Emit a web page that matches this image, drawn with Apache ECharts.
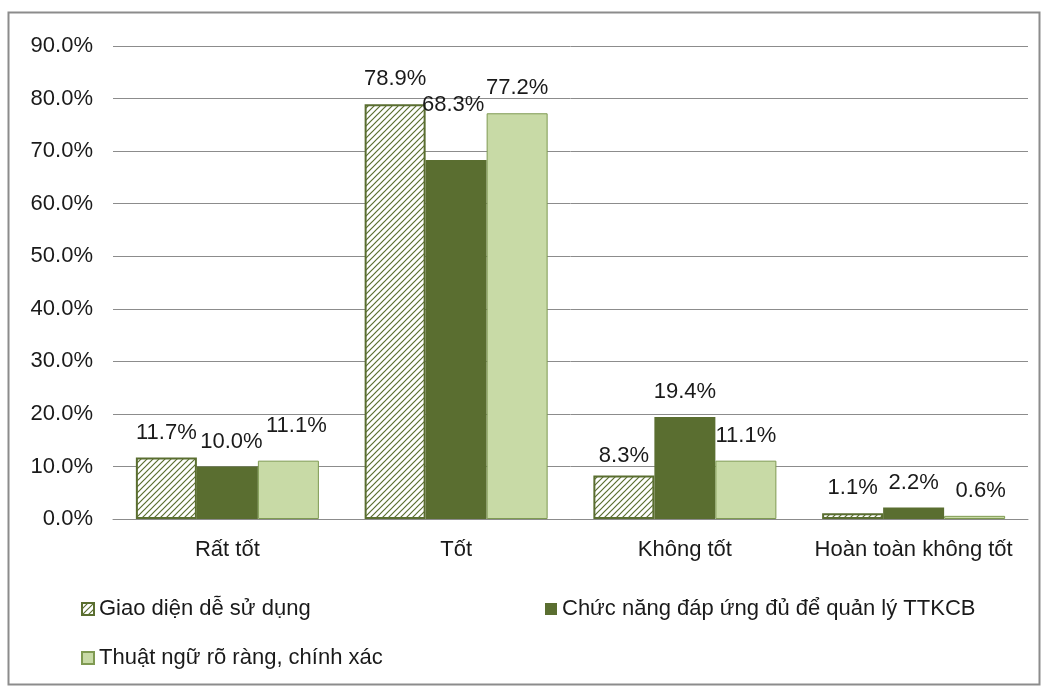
<!DOCTYPE html>
<html>
<head>
    <meta charset="utf-8">
    <title>Đánh giá phần mềm</title>
    <script type="text/javascript" src="https://cdn.jsdelivr.net/npm/echarts@6/dist/echarts.min.js"></script>
    <style>
        html, body { margin: 0; padding: 0; background: #fff; }
    </style>
</head>
<body>
<div id="main" style="width: 1044px;height:689px;"></div>
<script type="text/javascript">
    // du lieu
    var categories = ['Rất tốt', 'Tốt', 'Không tốt', 'Hoàn toàn không tốt'];
    var seriesNames = ['Giao diện dễ sử dụng', 'Chức năng đáp ứng đủ để quản lý TTKCB', 'Thuật ngữ rõ ràng, chính xác'];
    var giaoDien = [11.7, 78.9, 8.3, 1.1];
    var chucNang = [10.0, 68.3, 19.4, 2.2];
    var thuatNgu = [11.1, 77.2, 11.1, 0.6];

    var darkGreen = '#5a6e30';
    var lightGreen = '#c8daa6';
    var font = 'Liberation Sans, Arial';
    var fs = 22;

    // nen gach cheo cho cot thu nhat
    var hatch = document.createElement('canvas');
    hatch.width = 6;
    hatch.height = 6;
    var ctx = hatch.getContext('2d');
    ctx.fillStyle = '#ffffff';
    ctx.fillRect(0, 0, 6, 6);
    ctx.strokeStyle = darkGreen;
    ctx.lineWidth = 1.2;
    ctx.beginPath();
    ctx.moveTo(0, 6); ctx.lineTo(6, 0);
    ctx.moveTo(-3, 3); ctx.lineTo(3, -3);
    ctx.moveTo(3, 9); ctx.lineTo(9, 3);
    ctx.stroke();

    var myChart = echarts.init(document.getElementById('main'));

    var labelStyle = {
        show: true,
        position: 'top',
        distance: 14,
        fontSize: fs,
        color: '#1a1a1a',
        fontFamily: font,
        formatter: function (p) { return p.value.toFixed(1) + '%'; }
    };

    // vai nhan duoc dich tay nhu ban goc
    function withOffsets(arr, offsets) {
        return arr.map(function (v, i) {
            return offsets[i] ? { value: v, label: { offset: offsets[i] } } : v;
        });
    }

    var legendText = { fontSize: fs, color: '#1a1a1a', fontFamily: font };
    var legendBase = { icon: 'rect', itemWidth: 12, itemHeight: 12, itemGap: 6, textStyle: legendText };

    var option = {
        animation: false,
        textStyle: { fontFamily: font },
        graphic: [{
            type: 'rect',
            shape: { x: 8.5, y: 12.5, width: 1031, height: 672 },
            style: { fill: 'none', stroke: '#8c8c8c', lineWidth: 2 }
        }],
        legend: [
            Object.assign({ data: [seriesNames[0]], left: 76, top: 593 }, legendBase),
            Object.assign({ data: [seriesNames[1]], left: 540, top: 593 }, legendBase),
            Object.assign({ data: [seriesNames[2]], left: 76, top: 642 }, legendBase)
        ],
        grid: { left: 113, right: 16, top: 46, bottom: 170 },
        xAxis: {
            type: 'category',
            data: categories,
            axisLine: { lineStyle: { color: '#8c8c8c' } },
            axisTick: { show: false },
            axisLabel: { interval: 0, fontSize: fs, color: '#1a1a1a', margin: 20 }
        },
        yAxis: {
            type: 'value',
            min: 0,
            max: 90,
            interval: 10,
            axisLabel: {
                fontSize: fs, color: '#1a1a1a', margin: 20,
                formatter: function (v) { return v.toFixed(1) + '%'; }
            },
            splitLine: { lineStyle: { color: '#8c8c8c' } }
        },
        series: [
            {
                name: seriesNames[0], type: 'bar',
                data: withOffsets(giaoDien, { 2: [0, 6] }),
                barGap: '0%', barCategoryGap: '20%',
                itemStyle: { color: { image: hatch, repeat: 'repeat' }, borderColor: darkGreen, borderWidth: 2 },
                label: labelStyle
            },
            {
                name: seriesNames[1], type: 'bar',
                data: withOffsets(chucNang, { 0: [4, 0], 1: [-3, -30] }),
                itemStyle: { color: darkGreen },
                label: labelStyle
            },
            {
                name: seriesNames[2], type: 'bar',
                data: withOffsets(thuatNgu, { 0: [8, -10], 3: [6, 0] }),
                itemStyle: { color: lightGreen, borderColor: '#7f9a52', borderWidth: 1 },
                label: labelStyle
            }
        ]
    };

    myChart.setOption(option);
</script>
</body>
</html>
